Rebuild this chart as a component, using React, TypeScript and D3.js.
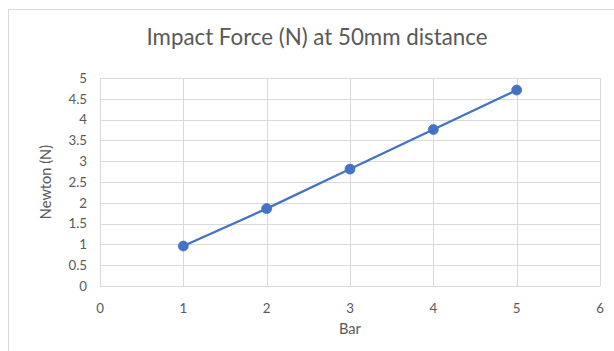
import React from "react";
import * as d3 from "d3";

const title = "Impact Force (N) at 50mm distance";
const xLabel = "Bar";
const yLabel = "Newton (N)";
const bars = [1, 2, 3, 4, 5];
const newtons = [0.96, 1.86, 2.81, 3.76, 4.71];
const xTicks = [0, 1, 2, 3, 4, 5, 6];
const yTicks = [0, 0.5, 1, 1.5, 2, 2.5, 3, 3.5, 4, 4.5, 5];

const W = 614;
const H = 351;
const FONT = "Lato, 'Open Sans', sans-serif";
const TXT = "#595959";

export default function App() {
  const x = d3.scaleLinear().domain([0, 6]).range([100, 600]);
  const y = d3.scaleLinear().domain([0, 5]).range([286, 78]);
  const pts = bars.map((b, i) => [b, newtons[i]] as [number, number]);
  const line = d3
    .line<[number, number]>()
    .x((d) => x(d[0]))
    .y((d) => y(d[1]));

  return (
    <svg
      width={W}
      height={H}
      style={{ position: "absolute", left: 0, top: 0, background: "#fff" }}
    >
      <rect x={8.5} y={9.5} width={W} height={H} fill="#fff" stroke="#d9d9d9" strokeWidth={1} />
      <text x={317} y={44.5} textAnchor="middle" fontFamily={FONT} fontSize={22.3} fill={TXT}>
        {title}
      </text>
      {yTicks.map((t) => (
        <line key={"gy" + t} x1={x(0)} x2={x(6)} y1={Math.round(y(t)) + 0.5} y2={Math.round(y(t)) + 0.5} stroke="#d9d9d9" strokeWidth={1} />
      ))}
      {xTicks.map((t) => (
        <line key={"gx" + t} x1={Math.round(x(t)) + 0.5} x2={Math.round(x(t)) + 0.5} y1={y(5)} y2={y(0)} stroke="#d9d9d9" strokeWidth={1} />
      ))}
      {yTicks.map((t) => (
        <text key={"ty" + t} x={87} y={y(t) + 4.8} textAnchor="end" fontFamily={FONT} fontSize={13.3} fill={TXT}>
          {t}
        </text>
      ))}
      {xTicks.map((t) => (
        <text key={"tx" + t} x={x(t)} y={313} textAnchor="middle" fontFamily={FONT} fontSize={13.3} fill={TXT}>
          {t}
        </text>
      ))}
      <text x={x(3)} y={334} textAnchor="middle" fontFamily={FONT} fontSize={14.6} fill={TXT}>
        {xLabel}
      </text>
      <text
        transform={`translate(51, ${(y(0) + y(5)) / 2}) rotate(-90)`}
        textAnchor="middle"
        fontFamily={FONT}
        fontSize={14.6}
        fill={TXT}
      >
        {yLabel}
      </text>
      <path d={line(pts) || ""} fill="none" stroke="#4472c4" strokeWidth={2.25} strokeLinejoin="round" />
      {pts.map((p, i) => (
        <circle key={"p" + i} cx={x(p[0])} cy={y(p[1])} r={5} fill="#4472c4" stroke="#4472c4" strokeWidth={0.75} />
      ))}
    </svg>
  );
}
